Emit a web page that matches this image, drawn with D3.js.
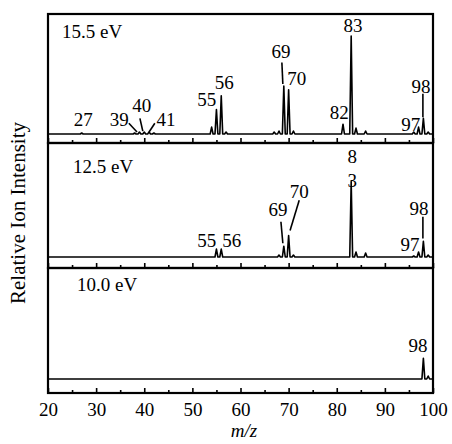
<!DOCTYPE html>
<html>
<head>
<meta charset="utf-8">
<script src="https://cdn.jsdelivr.net/npm/d3@7"></script>
<style>
  body { margin: 0; background: #fff; }
  svg text { font-family: "Liberation Serif", "Times New Roman", serif; fill: #000; }
</style>
</head>
<body>
<svg id="chart" width="452" height="444"></svg>
<script>
// ---- data ----
var energies = ["15.5 eV", "12.5 eV", "10.0 eV"];
var xTicks = [20, 30, 40, 50, 60, 70, 80, 90, 100];

// peaks: [m/z, relative intensity]
var peaks155 = [[27,1],[38,1],[39,2],[40,2],[41,2],[42,1],[54,7],[55,25],[56,39],[57,2],
    [67,2],[68,3],[69,49],[70,45],[71,3],[81.3,10],[83,100],[84,6],[86,3],[96,2],[97,7],[98,16],[99,2]];
var peaks125 = [[55,8],[56,8],[68,2],[69,11],[70,22],[71,2],[83,77],[84,5],[86,4],[96,1],[97,5],[98,16],[99,2]];
var peaks100 = [[98,21],[99,3]];

// peak labels: [text, m/z, level]
var labels155 = [["27",27.3,8],["39",34.8,8],["40",39.5,22],["41",44.5,8],["55",53.0,29],["56",56.6,46],
    ["69",68.4,78],["70",71.7,50],["82",80.5,15],["83",83.4,104],["97",95.4,3],["98",97.5,42]];
var labels125 = [["8",83.2,96],["3",83.2,71],["55",53.0,10],["56",58.2,10],["69",67.8,42],
    ["70",72.2,60],["97",95.2,6],["98",97.1,43]];
var labels100 = [["98",96.9,28]];

// leader lines: [m/z1, level1, m/z2, level2]
var leaders155 = [[36.8,11,38.5,2],[39.1,16,39.7,3],[42.2,11,41.0,2],[68.6,73,68.8,51],[97.9,41,97.9,17]];
var leaders125 = [[68.4,36,68.8,14],[72.2,58,70.3,27],[97.9,41,97.9,19]];
var leaders100 = [];

var spectra = [
  {name: energies[0], peaks: peaks155, labels: labels155, leaders: leaders155},
  {name: energies[1], peaks: peaks125, labels: labels125, leaders: leaders125},
  {name: energies[2], peaks: peaks100, labels: labels100, leaders: leaders100}
];

// ---- layout ----
var svg = d3.select("#chart"),
    left = 48, right = 433,
    panelTop = [14, 143, 268],
    panelBottom = [143, 268, 393],
    baseY = [134, 257, 379],
    nameX = [62, 73, 77],
    nameY = [38, 173, 291];

var x = d3.scaleLinear().domain([20, 100]).range([left, right]);

var line = d3.line()
    .x(d => x(d[0]))
    .y(d => d[1]);

spectra.forEach(function (s, i) {
    var y = d3.scaleLinear().domain([0, 100]).range([baseY[i], baseY[i] - 98]);
    var g = svg.append("g");

    // spectrum trace built from the peak list
    var pts = [[20, y(0)]];
    s.peaks.slice().sort((a, b) => a[0] - b[0]).forEach(function (p) {
        pts.push([p[0] - 0.3, y(0)], [p[0], y(p[1])], [p[0] + 0.3, y(0)]);
    });
    pts.push([100, y(0)]);
    g.append("path")
        .attr("d", line(pts))
        .attr("fill", "none")
        .attr("stroke", "#000")
        .attr("stroke-width", 1.6)
        .attr("stroke-linejoin", "round");

    // inward ticks along the bottom of each panel
    g.append("g")
        .attr("transform", "translate(0," + panelBottom[i] + ")")
        .call(d3.axisTop(x).tickValues(d3.range(20, 101, 5)).tickSize(3).tickFormat(""))
        .call(a => a.select(".domain").remove())
        .call(a => a.selectAll(".tick line")
            .attr("stroke-width", 1.6)
            .attr("y2", d => d % 10 === 0 ? -5 : -3));

    g.selectAll(".lead")
        .data(s.leaders)
        .enter().append("line")
        .attr("x1", d => x(d[0])).attr("y1", d => y(d[1]))
        .attr("x2", d => x(d[2])).attr("y2", d => y(d[3]))
        .attr("stroke", "#000")
        .attr("stroke-width", 1.6);

    g.selectAll(".plab")
        .data(s.labels)
        .enter().append("text")
        .attr("x", d => x(d[1]))
        .attr("y", d => y(d[2]))
        .attr("text-anchor", "middle")
        .style("font-size", "19px")
        .text(d => d[0]);

    g.append("text")
        .attr("x", nameX[i])
        .attr("y", nameY[i])
        .style("font-size", "19px")
        .text(s.name);

    // frame
    g.append("rect")
        .attr("x", left).attr("y", panelTop[i])
        .attr("width", right - left).attr("height", panelBottom[i] - panelTop[i])
        .attr("fill", "none")
        .attr("stroke", "#000")
        .attr("stroke-width", 2.2);
});

// x tick labels
svg.append("g")
    .attr("transform", "translate(0,393)")
    .call(d3.axisBottom(x).tickValues(xTicks).tickSize(0).tickPadding(0))
    .call(a => a.select(".domain").remove())
    .call(a => a.selectAll("text")
        .attr("dy", null)
        .attr("y", 23)
        .style("font-size", "19px")
        .style("font-family", "Liberation Serif, serif"));

svg.append("text")
    .attr("x", 244)
    .attr("y", 437)
    .attr("text-anchor", "middle")
    .style("font-size", "19px")
    .style("font-style", "italic")
    .text("m/z");

svg.append("text")
    .attr("transform", "rotate(-90)")
    .attr("x", -213)
    .attr("y", 25)
    .attr("text-anchor", "middle")
    .style("font-size", "21px")
    .text("Relative Ion Intensity");
</script>
</body>
</html>
